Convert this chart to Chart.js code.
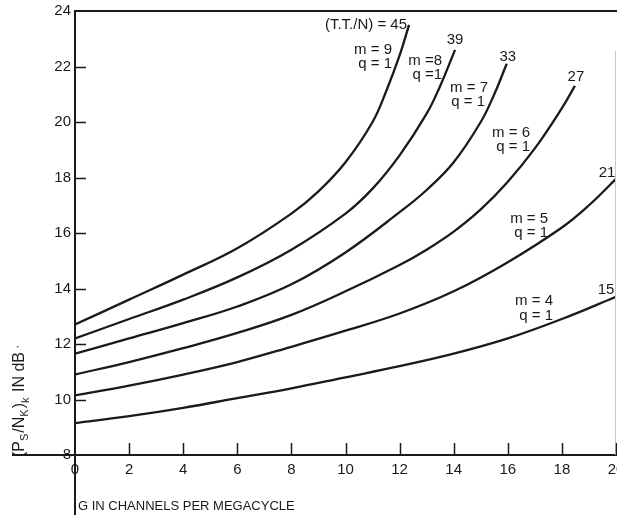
<!DOCTYPE html>
<html>
<head>
<meta charset="utf-8">
<script src="https://cdn.jsdelivr.net/npm/chart.js@4/dist/chart.umd.min.js"></script>
<style>
    html, body { margin: 0; padding: 0; background: #fff; }
    canvas { display: block; }
</style>
</head>
<body>
<canvas id="chart" width="617" height="521"></canvas>
<script>
/* Curve values: G (channels per Mc) and (Ps/Nk)k in dB */
const g45 = [0, 2, 4, 6, 8, 9, 10, 11, 11.5, 12, 12.35];
const v45 = [12.7, 13.6, 14.5, 15.45, 16.7, 17.5, 18.55, 20.0, 21.1, 22.4, 23.5];

const g39 = [0, 2, 4, 6, 8, 10, 11, 12, 13, 13.5, 14.05];
const v39 = [12.2, 12.9, 13.6, 14.4, 15.4, 16.7, 17.6, 18.8, 20.3, 21.3, 22.6];

const g33 = [0, 2, 4, 6, 8, 10, 12, 13, 14, 15, 15.5, 15.96];
const v33 = [11.65, 12.2, 12.75, 13.35, 14.15, 15.3, 16.75, 17.55, 18.55, 20.0, 21.0, 22.1];

const g27 = [0, 2, 4, 6, 8, 10, 12, 13, 14, 15, 16, 17, 18, 18.48];
const v27 = [10.9, 11.35, 11.85, 12.4, 13.05, 13.9, 14.85, 15.4, 16.05, 16.85, 17.85, 19.05, 20.5, 21.3];

const g21 = [0, 2, 4, 6, 8, 10, 12, 14, 16, 18, 19, 20];
const v21 = [10.15, 10.5, 10.9, 11.35, 11.9, 12.48, 13.1, 13.9, 14.95, 16.2, 17.0, 17.95];

const g15 = [0, 2, 4, 6, 8, 10, 12, 14, 16, 18, 20];
const v15 = [9.15, 9.4, 9.7, 10.05, 10.4, 10.8, 11.2, 11.65, 12.2, 12.9, 13.7];

const xTicks = [0, 2, 4, 6, 8, 10, 12, 14, 16, 18, 20];
const yTicks = [8, 10, 12, 14, 16, 18, 20, 22, 24];

const curveLabels = ["45", "39", "33", "27", "21", "15"];
const mLabels = ["m = 9", "m =8", "m = 7", "m = 6", "m = 5", "m = 4"];
const qLabels = ["q = 1", "q =1", "q = 1", "q = 1", "q = 1", "q = 1"];

const FONT = "'Liberation Sans', Arial, sans-serif";
const INK = "#1a1a1a";

/* where the hand-lettered labels sit, in data units */
const numPos = [[9.24, 23.5], [14.05, 22.95], [16.0, 22.34], [18.52, 21.62], [19.67, 18.16], [19.63, 13.95]];
const mPos = [[11.72, 22.6], [13.57, 22.2], [15.27, 21.23], [16.82, 19.6], [17.49, 16.5], [17.67, 13.55]];
const qPos = [[11.72, 22.09], [13.57, 21.69], [15.16, 20.72], [16.82, 19.1], [17.49, 16.0], [17.67, 13.0]];

function pts(g, v) {
    return g.map((x, i) => ({ x: x, y: v[i] }));
}

const series = [[g45, v45], [g39, v39], [g33, v33], [g27, v27], [g21, v21], [g15, v15]];

const datasets = series.map(([g, v]) => ({
    data: pts(g, v),
    borderColor: INK,
    borderWidth: 2.3,
    pointRadius: 0,
    fill: false,
    tension: 0.4,
}));

/* axes lines, inside ticks and lettering */
const decor = {
    id: "decor",
    afterDraw(chart) {
        const { ctx, scales: { x, y } } = chart;
        const x0 = x.getPixelForValue(0);
        const y0 = y.getPixelForValue(8);
        const yTop = y.getPixelForValue(24);
        ctx.save();
        ctx.strokeStyle = INK;
        ctx.lineCap = "butt";

        ctx.lineWidth = 2;
        ctx.beginPath();
        ctx.moveTo(12, y0); ctx.lineTo(617, y0);
        ctx.moveTo(x0, yTop - 1); ctx.lineTo(x0, 515);
        ctx.moveTo(x0, yTop); ctx.lineTo(617, yTop);
        ctx.stroke();

        ctx.strokeStyle = "#c8c8c8";
        ctx.lineWidth = 1;
        ctx.beginPath();
        ctx.moveTo(615.5, yTop + 40); ctx.lineTo(615.5, y0);
        ctx.stroke();

        ctx.strokeStyle = INK;
        ctx.lineWidth = 1.5;
        ctx.beginPath();
        yTicks.filter(v => v > 8 && v < 24).forEach(v => {
            const py = Math.round(y.getPixelForValue(v)) + 0.5;
            ctx.moveTo(x0, py); ctx.lineTo(x0 + 11, py);
        });
        xTicks.filter(v => v > 0).forEach(v => {
            const px = Math.round(x.getPixelForValue(v)) + 0.5;
            ctx.moveTo(px, y0); ctx.lineTo(px, y0 - 12);
        });
        ctx.stroke();

        ctx.fillStyle = INK;
        ctx.textBaseline = "middle";
        ctx.font = "15px " + FONT;

        ctx.textAlign = "left";
        ctx.fillText("(T.T./N) = 45", x.getPixelForValue(numPos[0][0]), y.getPixelForValue(numPos[0][1]));
        ctx.textAlign = "center";
        for (let i = 1; i < curveLabels.length; i++) {
            ctx.fillText(curveLabels[i], x.getPixelForValue(numPos[i][0]), y.getPixelForValue(numPos[i][1]));
        }
        ctx.textAlign = "right";
        for (let i = 0; i < mLabels.length; i++) {
            ctx.fillText(mLabels[i], x.getPixelForValue(mPos[i][0]), y.getPixelForValue(mPos[i][1]));
            ctx.fillText(qLabels[i], x.getPixelForValue(qPos[i][0]), y.getPixelForValue(qPos[i][1]));
        }

        /* x axis title */
        ctx.textAlign = "left";
        ctx.textBaseline = "alphabetic";
        ctx.font = "13px " + FONT;
        ctx.fillText("G IN CHANNELS PER MEGACYCLE", x0 + 3, 510);

        /* rotated y title with subscripts */
        ctx.translate(24, 457);
        ctx.rotate(-Math.PI / 2);
        const parts = [
            ["(P", 16, 0], ["S", 11, 4], ["/N", 16, 0], ["K", 11, 4],
            [")", 16, 0], ["k", 11, 5], [" IN dB", 16, 0], [" \u00b7", 12, -3],
        ];
        let cx = 0;
        parts.forEach(([t, size, dy]) => {
            ctx.font = size + "px " + FONT;
            ctx.fillText(t, cx, dy);
            cx += ctx.measureText(t).width + (size < 15 ? 1 : 0);
        });
        ctx.restore();
    },
};

new Chart(document.getElementById("chart"), {
    type: "line",
    data: { datasets },
    options: {
        responsive: false,
        animation: false,
        events: [],
        layout: { padding: { top: 11, right: 1, left: 0, bottom: 0 } },
        plugins: {
            legend: { display: false },
            tooltip: { enabled: false },
        },
        scales: {
            x: {
                type: "linear",
                min: 0,
                max: 20,
                afterBuildTicks: s => { s.ticks = xTicks.map(v => ({ value: v })); },
                afterFit: s => { s.height = 66; s.paddingLeft = 0; s.paddingRight = 0; },
                grid: { display: false, drawTicks: false },
                border: { display: false },
                ticks: {
                    color: INK,
                    padding: 6,
                    maxRotation: 0,
                    autoSkip: false,
                    font: { family: FONT, size: 15 },
                },
            },
            y: {
                type: "linear",
                min: 8,
                max: 24,
                afterBuildTicks: s => { s.ticks = yTicks.map(v => ({ value: v })); },
                afterFit: s => { s.width = 75; s.paddingTop = 0; s.paddingBottom = 0; },
                grid: { display: false, drawTicks: false },
                border: { display: false },
                ticks: {
                    color: INK,
                    padding: 4,
                    font: { family: FONT, size: 15 },
                },
            },
        },
    },
    plugins: [decor],
});
</script>
</body>
</html>
